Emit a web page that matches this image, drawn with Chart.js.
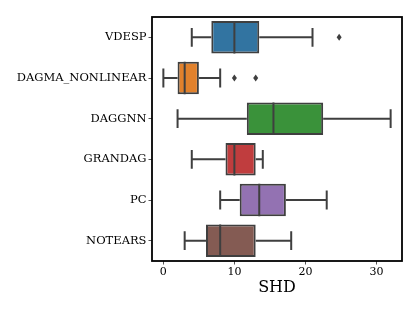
<!DOCTYPE html>
<html>
<head>
<meta charset="utf-8">
<script src="https://cdn.jsdelivr.net/npm/chart.js@4.4.0/dist/chart.umd.min.js"></script>
<style>
html,body{margin:0;padding:0;background:#fff;}
#wrap{width:420px;height:315px;}
</style>
</head>
<body>
<div id="wrap"><canvas id="c" width="420" height="315"></canvas></div>
<script>
const categories = ["VDESP", "DAGMA_NONLINEAR", "DAGGNN", "GRANDAG", "PC", "NOTEARS"];
const whiskerLow  = [4, 0, 2, 4, 8, 3];
const q1          = [6.75, 2, 11.75, 8.75, 10.75, 6];
const median      = [10, 3, 15.5, 10, 13.5, 8];
const q3          = [13.5, 5, 22.5, 13, 17.25, 13];
const whiskerHigh = [21, 8, 32, 14, 23, 18];
const outliers    = [[24.75], [10, 13], [], [], [], []];
const xTicks      = [0, 10, 20, 30];
const boxColors   = ["#3274a1", "#e1812c", "#3a923a", "#c03d3e", "#9372b2", "#845b53"];

const EDGE = "#3f3f3f";
const FONT = "'DejaVu Serif', 'Liberation Serif', serif";

const boxPlugin = {
  id: "boxParts",
  afterDatasetsDraw(chart) {
    const ctx = chart.ctx;
    const xs = chart.scales.x;
    const meta = chart.getDatasetMeta(0);
    ctx.save();
    ctx.strokeStyle = EDGE;
    ctx.lineWidth = 2;
    ctx.lineCap = "butt";
    meta.data.forEach((bar, i) => {
      const y = bar.y;
      const h = bar.height;
      const capH = h * 0.29;
      const pLo = xs.getPixelForValue(whiskerLow[i]);
      const pQ1 = xs.getPixelForValue(q1[i]);
      const pQ3 = xs.getPixelForValue(q3[i]);
      const pHi = xs.getPixelForValue(whiskerHigh[i]);
      const pMed = xs.getPixelForValue(median[i]);
      ctx.beginPath();
      ctx.moveTo(pLo, y); ctx.lineTo(pQ1, y);
      ctx.moveTo(pQ3, y); ctx.lineTo(pHi, y);
      ctx.moveTo(pLo, y - capH); ctx.lineTo(pLo, y + capH);
      ctx.moveTo(pHi, y - capH); ctx.lineTo(pHi, y + capH);
      ctx.moveTo(pMed, y - h / 2); ctx.lineTo(pMed, y + h / 2);
      ctx.stroke();
      ctx.fillStyle = EDGE;
      outliers[i].forEach(v => {
        const px = xs.getPixelForValue(v);
        ctx.beginPath();
        ctx.moveTo(px, y - 3.5);
        ctx.lineTo(px + 2.5, y);
        ctx.lineTo(px, y + 3.5);
        ctx.lineTo(px - 2.5, y);
        ctx.closePath();
        ctx.fill();
      });
    });
    const a = chart.chartArea;
    ctx.strokeStyle = "#000";
    ctx.lineWidth = 1.8;
    ctx.strokeRect(a.left, a.top, a.right - a.left, a.bottom - a.top);
    ctx.restore();
  }
};

new Chart(document.getElementById("c"), {
  type: "bar",
  data: {
    labels: categories,
    datasets: [{
      data: categories.map((c, i) => [q1[i], q3[i]]),
      backgroundColor: boxColors,
      borderColor: EDGE,
      borderWidth: 2,
      borderSkipped: false,
      barPercentage: 0.8,
      categoryPercentage: 1.0
    }]
  },
  options: {
    indexAxis: "y",
    responsive: false,
    animation: false,
    events: [],
    layout: { padding: { top: 17, right: 18, left: 0, bottom: 18 } },
    plugins: { legend: { display: false }, tooltip: { enabled: false } },
    scales: {
      x: {
        type: "linear",
        min: -1.6,
        max: 33.6,
        afterBuildTicks(scale) { scale.ticks = xTicks.map(v => ({ value: v })); },
        afterFit(scale) { scale.height = 36; },
        grid: { drawOnChartArea: false, drawTicks: true, tickLength: 3.5, tickColor: "#555", tickWidth: 1, offset: false },
        border: { display: false },
        ticks: { color: "#000", font: { family: FONT, size: 11 }, padding: 1, maxRotation: 0 },
        title: { display: true, text: "SHD", color: "#000", font: { family: FONT, size: 16 }, padding: { top: 0, bottom: 0 } }
      },
      y: {
        type: "category",
        afterFit(scale) { scale.width = 152; },
        grid: { drawOnChartArea: false, drawTicks: true, tickLength: 3.5, tickColor: "#555", tickWidth: 1, offset: false },
        border: { display: false },
        ticks: { color: "#000", font: { family: FONT, size: 11.5 }, padding: 2 }
      }
    }
  },
  plugins: [boxPlugin]
});
</script>
</body>
</html>
